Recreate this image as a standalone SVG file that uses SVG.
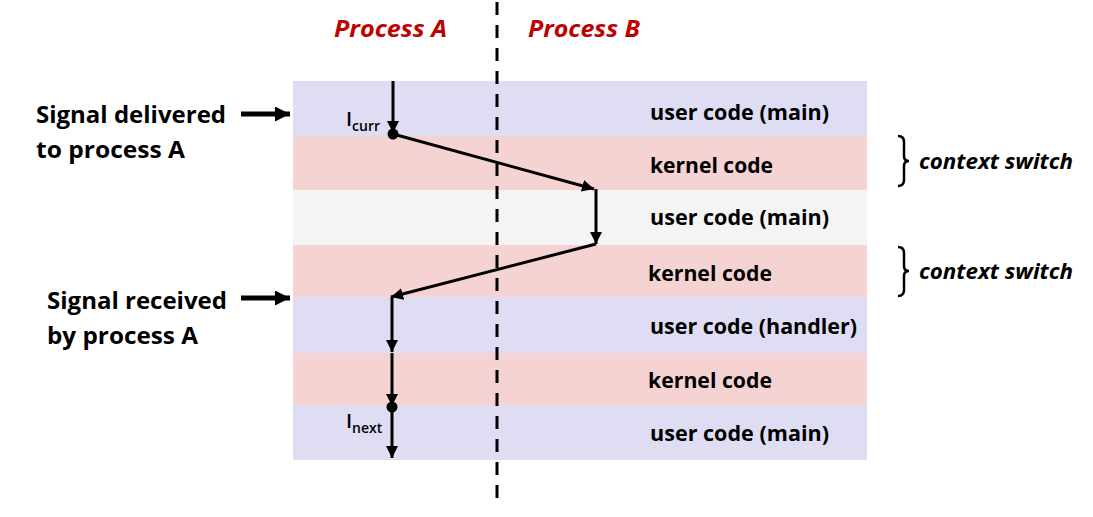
<svg xmlns="http://www.w3.org/2000/svg" width="1093" height="517" viewBox="0 0 1093 517">
  <style>
    .user { fill: #DEDDF4; }
    .kern { fill: #F5D3D3; }
    .idle { fill: #F4F4F4; }
    .lbl { font-family: "Open Sans", "Liberation Sans", sans-serif; font-weight: 700; font-size: 20.5px; fill: #000; }
    .side { font-family: "Open Sans", "Liberation Sans", sans-serif; font-weight: 700; font-size: 23.5px; fill: #000; }
    .proc { font-family: "Open Sans", "Liberation Sans", sans-serif; font-weight: 700; font-style: italic; font-size: 23.5px; fill: #C00000; }
    .cs { font-family: "Open Sans", "Liberation Sans", sans-serif; font-weight: 700; font-style: italic; font-size: 20.5px; fill: #000; }
    .flow { stroke: #000; stroke-width: 3; fill: none; marker-end: url(#head); }
    .ptr { stroke: #000; stroke-width: 5; fill: none; marker-end: url(#bighead); }
    .brace { stroke: #000; stroke-width: 2.5; fill: none; }
    .ip { font-family: "Open Sans", "Liberation Sans", sans-serif; font-weight: 600; fill: #000; }
  </style>
  <defs>
    <marker id="head" viewBox="0 0 10 10" refX="10" refY="5" markerWidth="4" markerHeight="4" orient="auto" markerUnits="strokeWidth">
      <path d="M0,0 L10,5 L0,10 Z" fill="#000"/>
    </marker>
    <marker id="bighead" viewBox="0 0 10 10" refX="10" refY="5" markerWidth="3" markerHeight="3" orient="auto" markerUnits="strokeWidth">
      <path d="M0,0 L10,5 L0,10 Z" fill="#000"/>
    </marker>
  </defs>

  <!-- time-slice bands -->
  <g id="band1"><rect class="user" x="293" y="81" width="574" height="55"/><text class="lbl" x="650" y="120" textLength="179" lengthAdjust="spacingAndGlyphs">user code (main)</text></g>
  <g id="band2"><rect class="kern" x="293" y="136" width="574" height="54"/><text class="lbl" x="650" y="173" textLength="123" lengthAdjust="spacingAndGlyphs">kernel code</text></g>
  <g id="band3"><rect class="idle" x="293" y="190" width="574" height="55"/><text class="lbl" x="650" y="225" textLength="179" lengthAdjust="spacingAndGlyphs">user code (main)</text></g>
  <g id="band4"><rect class="kern" x="293" y="245" width="574" height="52"/><text class="lbl" x="648" y="281" textLength="124" lengthAdjust="spacingAndGlyphs">kernel code</text></g>
  <g id="band5"><rect class="user" x="293" y="297" width="574" height="56"/><text class="lbl" x="650" y="334" textLength="207" lengthAdjust="spacingAndGlyphs">user code (handler)</text></g>
  <g id="band6"><rect class="kern" x="293" y="353" width="574" height="52"/><text class="lbl" x="648" y="388" textLength="124" lengthAdjust="spacingAndGlyphs">kernel code</text></g>
  <g id="band7"><rect class="user" x="293" y="405" width="574" height="55"/><text class="lbl" x="650" y="441" textLength="179" lengthAdjust="spacingAndGlyphs">user code (main)</text></g>

  <!-- process headers and divider -->
  <g id="procA"><text class="proc" x="334" y="37" textLength="113" lengthAdjust="spacingAndGlyphs">Process A</text></g>
  <g id="procB"><text class="proc" x="528" y="37" textLength="112" lengthAdjust="spacingAndGlyphs">Process B</text></g>
  <line id="divider" x1="497" y1="2" x2="497" y2="502" stroke="#000" stroke-width="3" stroke-dasharray="13,10"/>

  <!-- side annotations -->
  <g id="delivered">
    <text class="side" x="36" y="123" textLength="190" lengthAdjust="spacingAndGlyphs">Signal delivered</text>
    <text class="side" x="36" y="158" textLength="149" lengthAdjust="spacingAndGlyphs">to process A</text>
  </g>
  <g id="received">
    <text class="side" x="47" y="309" textLength="180" lengthAdjust="spacingAndGlyphs">Signal received</text>
    <text class="side" x="47" y="344" textLength="151" lengthAdjust="spacingAndGlyphs">by process A</text>
  </g>
  <g id="cs1">
    <path class="brace" d="M898,136 Q904,136 904,142 L904,156 Q904,161 909,161 Q904,161 904,166 L904,180 Q904,186 898,186"/>
    <text class="cs" x="919" y="169" textLength="154" lengthAdjust="spacingAndGlyphs">context switch</text>
  </g>
  <g id="cs2">
    <path class="brace" d="M898,247 Q904,247 904,253 L904,266 Q904,271 909,271 Q904,271 904,276 L904,290 Q904,296 898,296"/>
    <text class="cs" x="919" y="279" textLength="154" lengthAdjust="spacingAndGlyphs">context switch</text>
  </g>

  <!-- instruction markers -->
  <g id="icurr">
    <circle cx="393" cy="134" r="5.5" fill="#000"/>
    <text class="ip" x="346" y="126" font-size="20">I<tspan font-size="14" dy="5">curr</tspan></text>
  </g>
  <g id="inext">
    <circle cx="392" cy="407" r="5.5" fill="#000"/>
    <text class="ip" x="346" y="428" font-size="20">I<tspan font-size="14" dy="5">next</tspan></text>
  </g>

  <!-- control-flow connectors -->
  <g id="connectors">
    <line class="ptr" x1="241" y1="114" x2="290" y2="114"/>
    <line class="ptr" x1="241" y1="298" x2="290" y2="298"/>
    <line class="flow" x1="393" y1="81" x2="393" y2="133"/>
    <line class="flow" x1="393" y1="134" x2="594" y2="189"/>
    <line class="flow" x1="596" y1="189" x2="596" y2="244"/>
    <line class="flow" x1="596" y1="244" x2="391" y2="297"/>
    <line class="flow" x1="392" y1="297" x2="392" y2="352"/>
    <line class="flow" x1="392" y1="353" x2="392" y2="406"/>
    <line class="flow" x1="392" y1="407" x2="392" y2="458"/>
  </g>
</svg>
